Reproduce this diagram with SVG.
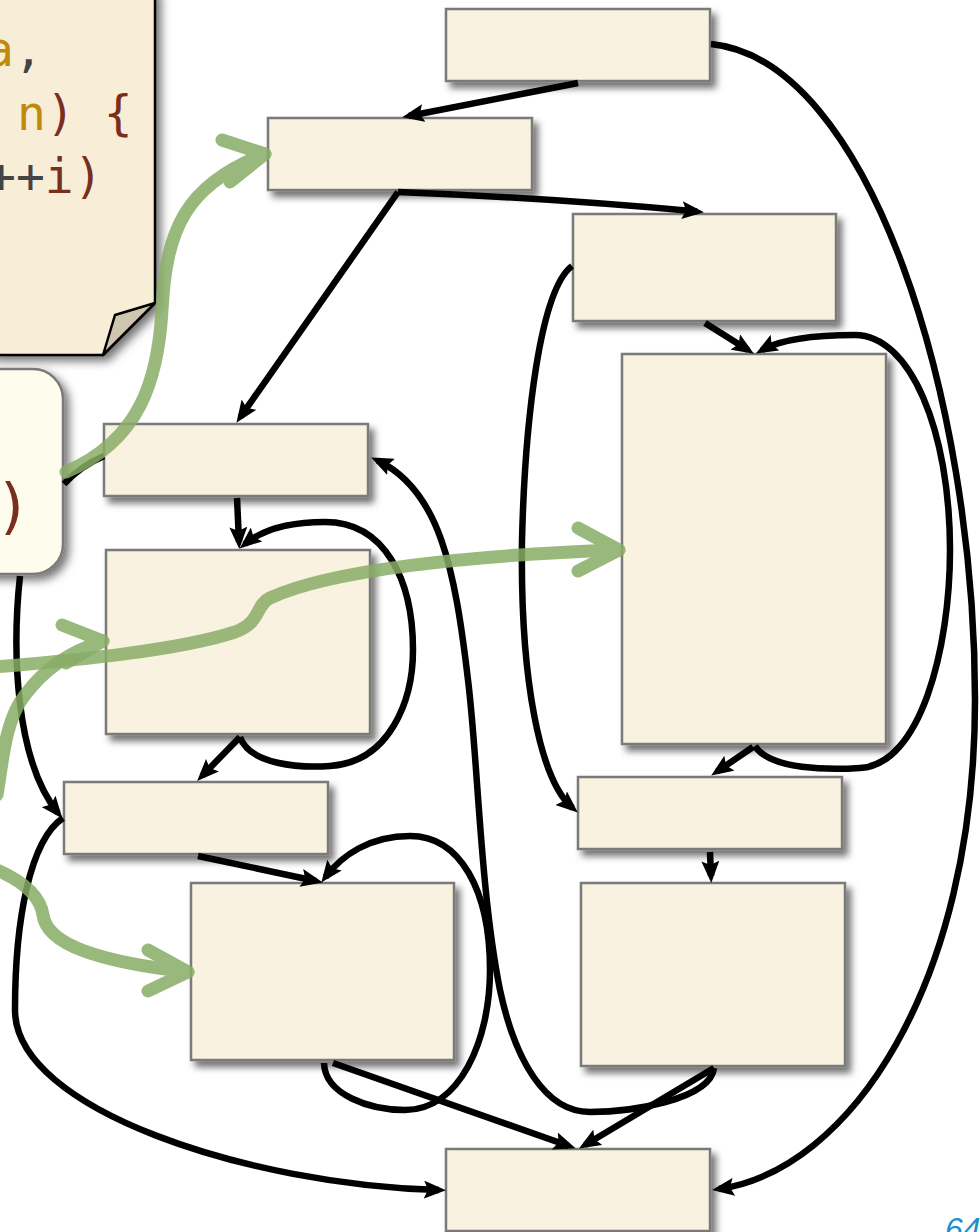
<svg xmlns="http://www.w3.org/2000/svg" width="980" height="1232" viewBox="0 0 980 1232">
<defs>
<filter id="sh" x="-20%" y="-20%" width="150%" height="150%">
<feDropShadow dx="5" dy="6" stdDeviation="3.5" flood-color="#000" flood-opacity="0.55"/>
</filter>
<filter id="sh2" x="-30%" y="-20%" width="160%" height="150%">
<feDropShadow dx="5" dy="5" stdDeviation="5" flood-color="#000" flood-opacity="0.55"/>
</filter>
<marker id="ah" viewBox="0 0 22 18" markerWidth="22" markerHeight="18" refX="15" refY="9" orient="auto" markerUnits="userSpaceOnUse">
<path d="M0,0 L22,9 L0,18 L4,9 Z" fill="#000"/>
</marker>
</defs>
<style>
.box{fill:#FAF2E1;stroke:#7a7a7a;stroke-width:2.5;filter:url(#sh)}
.c{fill:none;stroke:#000;stroke-width:6.5;marker-end:url(#ah)}
.cn{fill:none;stroke:#000;stroke-width:6.5}
.g{opacity:0.85}
.g path{fill:none;stroke:#88AD66;stroke-width:13;stroke-linecap:round;stroke-linejoin:round}
.code{font-family:"DejaVu Sans Mono","Liberation Mono",monospace;font-size:48px}
.gold{fill:#BE8A0A}
.brn{fill:#7A2E1E}
.dk{fill:#444}
</style>
<rect width="980" height="1232" fill="#fff"/>

<g id="note">
<path d="M-10,-10 L155,-10 L155,303 L103,355 L-10,355 Z" fill="#F8EDD6" stroke="#000" stroke-width="2.5" filter="url(#sh2)"/>
<path d="M155,303 L115,315 L103,355 Z" fill="#CFC6B0" stroke="#000" stroke-width="2.5" stroke-linejoin="round"/>
<text class="code" x="-15" y="66"><tspan class="gold">a</tspan><tspan class="dk">,</tspan></text>
<text class="code" x="17" y="130"><tspan class="gold">n</tspan><tspan class="brn">) {</tspan></text>
<text class="code" x="-13" y="193"><tspan class="dk">++</tspan><tspan class="brn">i)</tspan></text>
</g>

<g id="callbox">
<rect x="-40" y="369" width="103" height="205" rx="30" fill="#FEFCEC" stroke="#7a7a7a" stroke-width="2.5" filter="url(#sh2)"/>
<text x="-5" y="527" font-family="DejaVu Sans Mono, Liberation Mono, monospace" font-size="60" fill="#7A2E1E">)</text>
</g>

<g id="B1"><rect class="box" x="446" y="9" width="264" height="72"/></g>
<g id="B2"><rect class="box" x="268" y="118" width="264" height="72"/></g>
<g id="B3"><rect class="box" x="573" y="214" width="263" height="107"/></g>
<g id="B4"><rect class="box" x="622" y="354" width="264" height="390"/></g>
<g id="B5"><rect class="box" x="104" y="424" width="264" height="72"/></g>
<g id="B6"><rect class="box" x="106" y="550" width="264" height="184"/></g>
<g id="B7"><rect class="box" x="64" y="782" width="264" height="72"/></g>
<g id="B8"><rect class="box" x="191" y="883" width="263" height="177"/></g>
<g id="B9"><rect class="box" x="578" y="777" width="264" height="72"/></g>
<g id="B10"><rect class="box" x="581" y="883" width="264" height="183"/></g>
<g id="B11"><rect class="box" x="446" y="1149" width="264" height="82"/></g>

<g id="connectors">
<path class="c" d="M578,83 L409,116"/>
<path class="c" d="M711,44 C870,60 975,400 975,700 C975,985 850,1170 719,1189"/>
<path class="c" d="M398,192 Q550,198 697,211.5"/>
<path class="c" d="M398,192 L240.4,417"/>
<path class="c" d="M705,323 L748,350"/>
<path class="c" d="M755,746 C770,770 830,770 860,768 C920,765 950,650 950,550 C950,430 910,335 855,335 C810,335 778,341 762,350"/>
<path class="c" d="M753,747 L717,771.6"/>
<path class="c" d="M572,266 C540,290 525,420 522,540 C520,680 540,780 572.5,808"/>
<path class="c" d="M710,852 L711,876"/>
<path class="c" d="M714,1068 L585,1145"/>
<path class="c" d="M714,1068 C710,1100 630,1112 590,1112 C545,1112 515,1060 500,990 C480,890 478,760 468,680 C455,570 440,490 377.5,460.5"/>
<path class="c" d="M240,737 L202,776"/>
<path class="c" d="M240,737 C250,765 300,768 330,766 C390,762 413,700 413,650 C413,580 385,522 325,522 C290,522 262,530 245,544"/>
<path class="c" d="M237,498 L239,542"/>
<path class="c" d="M198,856 L316,881"/>
<path class="c" d="M324,1063 C325,1095 370,1110 405,1110 C460,1110 490,1040 490,970 C490,890 460,836 410,836 C370,836 342,855 325.5,877"/>
<path class="c" d="M333,1063 L569,1146"/>
<path class="c" d="M20,576 C12,650 15,760 58,813"/>
<path class="c" d="M63,818 C30,840 15,920 15,1010 C15,1110 250,1185 439,1190"/>
<path class="cn" d="M64,484 C75,472 90,462 104,456"/>
</g>

<g id="green-arrows">
<g class="g"><path d="M66,472 C140,440 158,380 162,310 C166,230 185,185 265,154"/><path d="M222,140 L265,154 L230,182"/></g>
<g class="g"><path d="M-5,667 C80,660 180,650 235,632 C262,622 255,605 270,598 C330,570 470,555 619,550"/><path d="M578,528 L619,550 L578,571"/></g>
<g class="g"><path d="M-3,795 C3,760 5,720 25,695 C45,668 70,652 103,641"/><path d="M62,625 L103,641 L66,663"/></g>
<g class="g"><path d="M-3,870 C20,880 40,895 43,915 C47,945 100,962 188,972"/><path d="M148,950 L188,972 L148,991"/></g>
</g>

<text x="945" y="1240" font-family="Liberation Sans, Arial, sans-serif" font-style="italic" font-size="32" fill="#1E90D0">64</text>
</svg>
